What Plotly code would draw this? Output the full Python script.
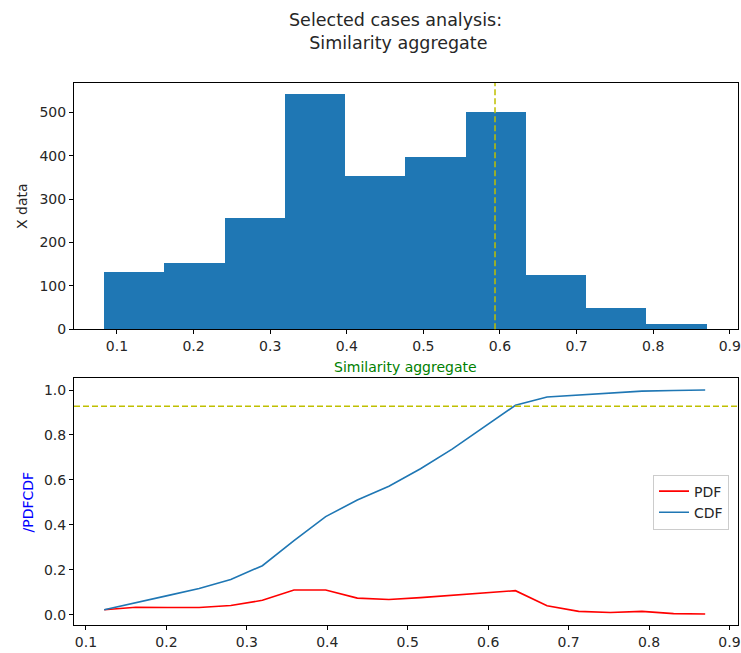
import plotly.graph_objects as go

W, H = 741, 653

# Histogram of the similarity aggregate (10 bins)
bin_edges = [0.0834, 0.1620, 0.2407, 0.3193, 0.3980, 0.4766,
             0.5552, 0.6339, 0.7125, 0.7912, 0.8698]
bin_counts = [133, 154, 256, 543, 354, 397, 502, 125, 48, 12]
threshold_x = 0.5935

# PDF / CDF evaluated at the right edge of 20 finer bins
dist_x = [0.1227, 0.1620, 0.2013, 0.2407, 0.2800, 0.3193, 0.3586, 0.3980,
          0.4373, 0.4766, 0.5159, 0.5552, 0.5946, 0.6339, 0.6732, 0.7125,
          0.7518, 0.7912, 0.8305, 0.8698]
pdf_vals = [0.023, 0.034, 0.033, 0.033, 0.042, 0.065, 0.111, 0.111,
            0.075, 0.069, 0.077, 0.087, 0.099, 0.108, 0.041, 0.016,
            0.011, 0.016, 0.006, 0.004]
cdf_vals = [0.023, 0.056, 0.086, 0.118, 0.158, 0.219, 0.330, 0.437,
            0.511, 0.572, 0.650, 0.737, 0.836, 0.932, 0.969, 0.978,
            0.985, 0.995, 0.998, 1.000]
cdf_threshold = 0.928

x_ticks_top = [0.1, 0.2, 0.3, 0.4, 0.5, 0.6, 0.7, 0.8, 0.9]
y_ticks_top = [0, 100, 200, 300, 400, 500]
y_ticks_bottom = [0.0, 0.2, 0.4, 0.6, 0.8, 1.0]

FONT = "DejaVu Sans"
BLUE = "#1f77b4"
OLIVE = "#bfbf00"
TEXT = "#262626"


def px_x(p):
    return p / W


def px_y(p):
    return 1 - p / H


centers = [(a + b) / 2 for a, b in zip(bin_edges[:-1], bin_edges[1:])]
widths = [b - a for a, b in zip(bin_edges[:-1], bin_edges[1:])]

fig = go.Figure()
fig.add_trace(go.Bar(x=centers, y=bin_counts, width=widths,
                     marker=dict(color=BLUE, line=dict(width=0)),
                     xaxis="x", yaxis="y", showlegend=False))
fig.add_trace(go.Scatter(x=dist_x, y=pdf_vals, mode="lines", name="PDF",
                         line=dict(color="red", width=1.6),
                         xaxis="x2", yaxis="y2"))
fig.add_trace(go.Scatter(x=dist_x, y=cdf_vals, mode="lines", name="CDF",
                         line=dict(color=BLUE, width=1.6),
                         xaxis="x2", yaxis="y2"))

axis_style = dict(showline=True, mirror=True, linecolor="black", linewidth=1,
                  ticks="outside", ticklen=4, tickwidth=1, tickcolor="black",
                  showgrid=False, zeroline=False, automargin=False,
                  tickfont=dict(family=FONT, size=14, color=TEXT))

dom_x = [px_x(74), px_x(738)]
fig.update_layout(
    width=W, height=H,
    margin=dict(l=0, r=0, t=0, b=0),
    paper_bgcolor="white", plot_bgcolor="white",
    font=dict(family=FONT, size=14, color=TEXT),
    bargap=0,
    xaxis=dict(domain=dom_x, anchor="y", range=[0.0439, 0.9107],
               tickvals=x_ticks_top, tickformat=".1f", **axis_style),
    yaxis=dict(domain=[px_y(329.3), px_y(83)], anchor="x", range=[0, 568],
               tickvals=y_ticks_top, **axis_style),
    xaxis2=dict(domain=dom_x, anchor="y2", range=[0.0851, 0.9106],
                tickvals=x_ticks_top, tickformat=".1f", **axis_style),
    yaxis2=dict(domain=[px_y(625.3), px_y(378.3)], anchor="x2",
                range=[-0.046, 1.052], tickvals=y_ticks_bottom,
                tickformat=".1f", **axis_style),
    legend=dict(x=px_x(729), y=px_y(502), xanchor="right", yanchor="middle",
                bgcolor="rgba(255,255,255,0.8)", bordercolor="#cccccc",
                borderwidth=1, font=dict(family=FONT, size=14, color=TEXT),
                tracegroupgap=2, itemwidth=30),
    shapes=[
        dict(type="line", xref="x", yref="y domain", x0=threshold_x,
             x1=threshold_x, y0=0, y1=1,
             line=dict(color=OLIVE, width=1.5, dash="6px,3px")),
        dict(type="line", xref="x2 domain", yref="y2", x0=0, x1=1,
             y0=cdf_threshold, y1=cdf_threshold,
             line=dict(color=OLIVE, width=1.5, dash="6px,3px")),
    ],
    annotations=[
        dict(text="Selected cases analysis:<br> Similarity aggregate",
             xref="paper", yref="paper", x=px_x(395), y=px_y(31),
             xanchor="center", yanchor="middle", showarrow=False,
             font=dict(family=FONT, size=17.5, color=TEXT)),
        dict(text="Similarity aggregate", xref="paper", yref="paper",
             x=px_x(406), y=px_y(367), xanchor="center", yanchor="middle",
             showarrow=False, font=dict(family=FONT, size=14, color="#008000")),
        dict(text="X data", xref="paper", yref="paper", x=px_x(22),
             y=px_y(206), xanchor="center", yanchor="middle", textangle=-90,
             showarrow=False, font=dict(family=FONT, size=14, color=TEXT)),
        dict(text="/PDFCDF", xref="paper", yref="paper", x=px_x(27),
             y=px_y(501.5), xanchor="center", yanchor="middle", textangle=-90,
             showarrow=False, font=dict(family=FONT, size=14, color="#0000ff")),
    ],
)

fig.write_html("out.html")
